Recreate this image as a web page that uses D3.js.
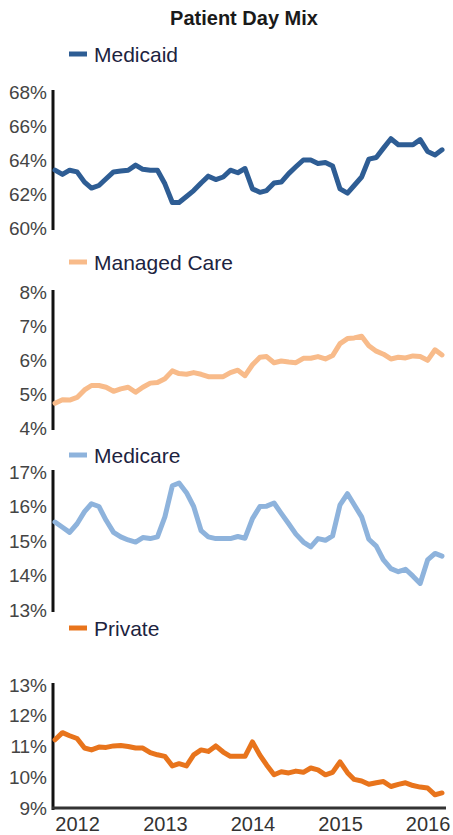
<!DOCTYPE html>
<html>
<head>
<meta charset="utf-8">
<script src="https://cdn.jsdelivr.net/npm/d3@7"></script>
<style>
  body { margin: 0; background: #fff; }
  svg text { font-family: "Liberation Sans", Arial, sans-serif; }
</style>
</head>
<body>
<div id="chart"></div>
<script>

  // monthly observations, Oct 2011 .. Mar 2016
  const months = [
    "2011-10", "2011-11", "2011-12",
    "2012-01", "2012-02", "2012-03", "2012-04", "2012-05", "2012-06", "2012-07", "2012-08", "2012-09", "2012-10", "2012-11", "2012-12",
    "2013-01", "2013-02", "2013-03", "2013-04", "2013-05", "2013-06", "2013-07", "2013-08", "2013-09", "2013-10", "2013-11", "2013-12",
    "2014-01", "2014-02", "2014-03", "2014-04", "2014-05", "2014-06", "2014-07", "2014-08", "2014-09", "2014-10", "2014-11", "2014-12",
    "2015-01", "2015-02", "2015-03", "2015-04", "2015-05", "2015-06", "2015-07", "2015-08", "2015-09", "2015-10", "2015-11", "2015-12",
    "2016-01", "2016-02", "2016-03"
  ];

  const medicaid = [
    63.4, 63.15, 63.4, 63.3, 62.7, 62.35, 62.5, 62.9, 63.3, 63.35, 63.4, 63.7,
    63.45, 63.4, 63.4, 62.6, 61.5, 61.5, 61.85, 62.2, 62.65, 63.05, 62.85, 63.0,
    63.4, 63.25, 63.5, 62.3, 62.1, 62.2, 62.65, 62.7, 63.2, 63.6, 64.0, 64.0,
    63.8, 63.85, 63.65, 62.3, 62.05, 62.5, 63.0, 64.05, 64.15, 64.7, 65.25, 64.9,
    64.9, 64.9, 65.2, 64.5, 64.3, 64.6
  ];

  const managed_care = [
    4.73, 4.83, 4.82, 4.9, 5.12, 5.25, 5.25, 5.2, 5.08, 5.15, 5.2, 5.05,
    5.2, 5.32, 5.34, 5.45, 5.68, 5.6, 5.58, 5.63, 5.58, 5.51, 5.51, 5.51,
    5.63, 5.7, 5.54, 5.86, 6.08, 6.1, 5.92, 5.97, 5.94, 5.92, 6.05, 6.05,
    6.1, 6.03, 6.13, 6.48, 6.63, 6.65, 6.7, 6.42, 6.26, 6.17, 6.03, 6.08,
    6.06, 6.12, 6.1, 5.99, 6.3, 6.15
  ];

  const medicare = [
    15.55, 15.4, 15.25, 15.5, 15.85, 16.08, 16.0, 15.6, 15.25, 15.12, 15.03, 14.97,
    15.1, 15.07, 15.12, 15.7, 16.6, 16.68, 16.4, 16.0, 15.3, 15.12, 15.07, 15.07,
    15.07, 15.13, 15.08, 15.65, 16.0, 16.01, 16.1, 15.8, 15.5, 15.2, 14.97, 14.83,
    15.07, 15.02, 15.15, 16.05, 16.37, 16.05, 15.7, 15.05, 14.85, 14.45, 14.2, 14.11,
    14.18, 13.98, 13.77, 14.45, 14.64, 14.56
  ];

  const private_pay = [
    11.22, 11.45, 11.35, 11.26, 10.95, 10.89, 10.98, 10.97, 11.02, 11.03, 11.0, 10.95,
    10.95, 10.8, 10.73, 10.68, 10.37, 10.44, 10.37, 10.73, 10.89, 10.84, 11.02, 10.82,
    10.68, 10.68, 10.68, 11.15, 10.72, 10.4, 10.08, 10.18, 10.14, 10.2, 10.16, 10.3,
    10.24, 10.08, 10.16, 10.5, 10.15, 9.93, 9.88, 9.77, 9.82, 9.86, 9.7, 9.77,
    9.82, 9.73, 9.68, 9.65, 9.43, 9.49
  ];

  const year_ticks = ["2012", "2013", "2014", "2015", "2016"];

  const medicaid_ticks = [60, 62, 64, 66, 68];
  const managed_care_ticks = [4, 5, 6, 7, 8];
  const medicare_ticks = [13, 14, 15, 16, 17];
  const private_ticks = [9, 10, 11, 12, 13];

  const W = 453, H = 835;
  const parse_month = d3.timeParse("%Y-%m");
  const dates = months.map(parse_month);

  const x = d3.scaleTime()
    .domain([dates[0], dates[dates.length - 1]])
    .range([55, 442]);

  const svg = d3.select("#chart")
    .append("svg")
    .attr("width", W)
    .attr("height", H);

  svg.append("text")
    .attr("x", 244)
    .attr("y", 25)
    .attr("text-anchor", "middle")
    .style("font-size", "20px")
    .style("font-weight", "bold")
    .style("fill", "#1a1a1a")
    .text("Patient Day Mix");

  // one panel per payer: legend on top, y axis on the left
  function draw_panel(spec) {
    const y = d3.scaleLinear()
      .domain([spec.ticks[0], spec.ticks[spec.ticks.length - 1]])
      .range([spec.bottom, spec.top]);

    // legend
    svg.append("line")
      .attr("x1", 69).attr("x2", 87)
      .attr("y1", spec.legend_y).attr("y2", spec.legend_y)
      .style("stroke", spec.color)
      .style("stroke-width", 5);
    svg.append("text")
      .attr("x", 94)
      .attr("y", spec.legend_y + 8)
      .style("font-size", "21px")
      .style("fill", "#1c2340")
      .text(spec.name);

    const axis = svg.append("g")
      .attr("transform", "translate(53,0)")
      .call(d3.axisLeft(y)
        .tickValues(spec.ticks)
        .tickSize(0)
        .tickPadding(6)
        .tickFormat(d => d + "%"));
    axis.select(".domain")
      .attr("d", `M0,${spec.bottom + 2}V${spec.top - 2}`)
      .style("stroke", "#111")
      .style("stroke-width", 3);
    axis.selectAll("text")
      .style("font-size", "19px")
      .style("font-family", "'Liberation Sans', Arial, sans-serif")
      .style("fill", "#444");

    const line = d3.line()
      .x((d, i) => x(dates[i]))
      .y(d => y(d));

    svg.append("path")
      .datum(spec.values)
      .attr("d", line)
      .style("fill", "none")
      .style("stroke", spec.color)
      .style("stroke-width", 5)
      .style("stroke-linejoin", "round")
      .style("stroke-linecap", "round");
  }

  draw_panel({ name: "Medicaid", values: medicaid, ticks: medicaid_ticks,
    color: "#2e5d94", top: 92, bottom: 228, legend_y: 54 });
  draw_panel({ name: "Managed Care", values: managed_care, ticks: managed_care_ticks,
    color: "#f8bb8a", top: 292, bottom: 428, legend_y: 262 });
  draw_panel({ name: "Medicare", values: medicare, ticks: medicare_ticks,
    color: "#8eb3dc", top: 472, bottom: 610, legend_y: 455 });
  draw_panel({ name: "Private", values: private_pay, ticks: private_ticks,
    color: "#e8741c", top: 685, bottom: 808, legend_y: 628 });

  // shared time axis under the last panel
  const x_axis = svg.append("g")
    .attr("transform", "translate(0,808)")
    .call(d3.axisBottom(x)
      .tickValues(year_ticks.map(d => parse_month(d + "-01")))
      .tickSize(0)
      .tickPadding(9)
      .tickFormat(d3.timeFormat("%Y")));
  x_axis.select(".domain")
    .attr("d", "M52,0H446")
    .style("stroke", "#333")
    .style("stroke-width", 3);
  x_axis.selectAll("text")
    .style("font-size", "20px")
    .style("font-family", "'Liberation Sans', Arial, sans-serif")
    .style("fill", "#333");

</script>
</body>
</html>
